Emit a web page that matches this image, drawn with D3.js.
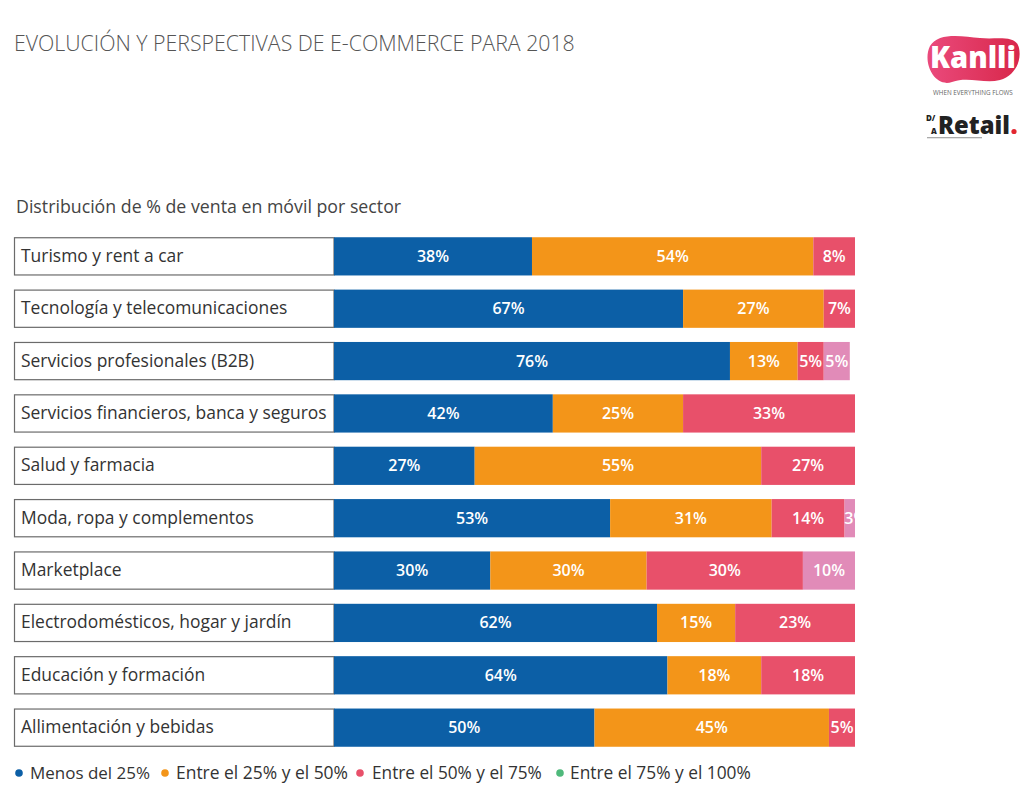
<!DOCTYPE html>
<html><head><meta charset="utf-8">
<script src="https://cdn.jsdelivr.net/npm/d3@7"></script>
<style>
html,body{margin:0;padding:0;background:#fff;}
svg{display:block;font-family:"Open Sans","Noto Sans",sans-serif;}
</style></head>
<body>
<svg id="chart" width="1024" height="804"></svg>
<script>
const categories = [
  "Turismo y rent a car",
  "Tecnología y telecomunicaciones",
  "Servicios profesionales (B2B)",
  "Servicios financieros, banca y seguros",
  "Salud y farmacia",
  "Moda, ropa y complementos",
  "Marketplace",
  "Electrodomésticos, hogar y jardín",
  "Educación y formación",
  "Allimentación y bebidas"
];
const seriesNames = ["Menos del 25%", "Entre el 25% y el 50%", "Entre el 50% y el 75%", "Entre el 75% y el 100%"];
const menos25   = [38, 67, 76, 42, 27, 53, 30, 62, 64, 50];
const entre2550 = [54, 27, 13, 25, 55, 31, 30, 15, 18, 45];
const entre5075 = [ 8,  7,  5, 33, 27, 14, 30, 23, 18,  5];
const entre75100= [ 0,  0,  5,  0,  0,  3, 10,  0,  0,  0];
const seriesValues = [menos25, entre2550, entre5075, entre75100];
const barColors = ["#0c5fa6", "#f39519", "#e8506a", "#e18bb8"];
const legendDotColors = ["#0c5fa6", "#f39519", "#e8506a", "#4fb97b"];

const svg = d3.select("#chart");
const FONT = "'Open Sans', sans-serif";

// scale a text's font-size so its rendered width matches target
function fit(sel, target) {
  const fs = +sel.attr("font-size");
  const w = sel.node().getComputedTextLength();
  if (w > 0) sel.attr("font-size", (fs * target / w).toFixed(2));
  return sel;
}

// Title
fit(svg.append("text").attr("x", 14).attr("y", 51)
  .attr("font-size", 17).attr("fill", "#555").attr("font-weight", 300)
  .attr("font-family", FONT)
  .text("EVOLUCIÓN Y PERSPECTIVAS DE E-COMMERCE PARA 2018"), 561);

// Subtitle
fit(svg.append("text").attr("x", 16).attr("y", 213)
  .attr("font-size", 15).attr("fill", "#444")
  .attr("font-family", FONT).attr("font-weight", 500)
  .text("Distribución de % de venta en móvil por sector"), 385);

// Logos
const defs = svg.append("defs");
const grad = defs.append("linearGradient").attr("id", "kg").attr("x1", "0").attr("x2", "1");
grad.append("stop").attr("offset", "0").attr("stop-color", "#ea4a7c");
grad.append("stop").attr("offset", "1").attr("stop-color", "#d8274a");
svg.append("path")
  .attr("d", "M930,46 C938,32 962,36 980,38 C996,40 1016,34 1019,48 C1022,62 1014,76 1000,80 C984,84 968,76 952,82 C934,88 922,62 930,46 Z")
  .attr("fill", "url(#kg)");
fit(svg.append("text").attr("x", 930).attr("y", 68)
  .attr("font-size", 22).attr("font-weight", 800).attr("fill", "#fff")
  .attr("font-family", FONT).text("Kanlli"), 86);
fit(svg.append("text").attr("x", 933).attr("y", 95)
  .attr("font-size", 5.5).attr("fill", "#666").attr("font-family", FONT)
  .text("WHEN EVERYTHING FLOWS"), 80);
svg.append("text").attr("x", 926).attr("y", 121).attr("font-size", 8).attr("font-weight", 800)
  .attr("fill", "#222").attr("font-family", FONT).text("D/");
svg.append("text").attr("x", 931).attr("y", 134).attr("font-size", 8).attr("font-weight", 800)
  .attr("fill", "#222").attr("font-family", FONT).text("A");
const ret = fit(svg.append("text").attr("x", 938).attr("y", 134).attr("font-size", 21).attr("font-weight", 800)
  .attr("fill", "#222").attr("font-family", FONT).text("Retail"), 72);
svg.append("circle").attr("cx", 938 + ret.node().getComputedTextLength() + 4).attr("cy", 131.5).attr("r", 2.6).attr("fill", "#e2262f");
svg.append("rect").attr("x", 927).attr("y", 137).attr("width", 55).attr("height", 1.3).attr("fill", "#aaa");

// Scales
const y = d3.scaleBand().domain(categories).range([232, 752]).paddingInner(0.27).paddingOuter(0.1);
const x = d3.scaleLinear().domain([0, 100]).range([334, 855]).clamp(true);

// Label boxes
const rows = svg.append("g").selectAll("g").data(categories).join("g");
rows.append("rect")
  .attr("x", 14.5).attr("y", d => y(d) + 0.5)
  .attr("width", x(0) - 14.5).attr("height", y.bandwidth() - 1)
  .attr("fill", "#fff").attr("stroke", "#6b6b6b").attr("stroke-width", 1.2);
const labels = rows.append("text")
  .attr("x", 21).attr("y", d => y(d) + y.bandwidth() / 2 + 5.5)
  .attr("font-size", 16).attr("fill", "#333").attr("font-weight", 500)
  .attr("font-family", FONT)
  .text(d => d);
// common size from the longest label (reference: ~306px)
{
  const longest = labels.filter(d => d === categories[3]);
  const w = longest.node().getComputedTextLength();
  labels.attr("font-size", (16 * 306 / w).toFixed(2));
}

// Stacked segments
const segs = [];
categories.forEach((c, i) => {
  let cum = 0;
  seriesValues.forEach((arr, s) => {
    const v = arr[i];
    if (v > 0) segs.push({cat: c, s, v, x0: cum, x1: cum + v});
    cum += v;
  });
});
const clip = defs.append("clipPath").attr("id", "barclip");
clip.append("rect").attr("x", x(0)).attr("y", 0).attr("width", x(100) - x(0)).attr("height", 804);

const segG = svg.append("g").attr("clip-path", "url(#barclip)");
segG.selectAll("rect").data(segs).join("rect")
  .attr("x", d => x(d.x0)).attr("y", d => y(d.cat))
  .attr("width", d => Math.max(0, x(d.x1) - x(d.x0)))
  .attr("height", y.bandwidth())
  .attr("fill", d => barColors[d.s]);
segG.selectAll("text").data(segs).join("text")
  .attr("x", d => (x(d.x0) + x(d.x1)) / 2 + ((x(d.x1) - x(d.x0)) < 20 ? 6 : 0))
  .attr("y", d => y(d.cat) + y.bandwidth() / 2 + 5.5)
  .attr("text-anchor", "middle").attr("font-size", 16).attr("font-weight", 600)
  .attr("fill", "#fff").attr("font-family", FONT)
  .text(d => d.v + "%");

// Legend
const legend = svg.append("g");
const legDot = [19, 165, 360, 560];
const legX = [30, 176, 372, 570];
const legW = [120, 172, 170, 181];
seriesNames.forEach((n, i) => {
  legend.append("circle").attr("cx", legDot[i]).attr("cy", 773).attr("r", 3.8).attr("fill", legendDotColors[i]);
  fit(legend.append("text").attr("x", legX[i]).attr("y", 779)
    .attr("font-size", 15.5).attr("fill", "#333").attr("font-weight", 500)
    .attr("font-family", FONT).text(n), legW[i]);
});
</script>
</body></html>
